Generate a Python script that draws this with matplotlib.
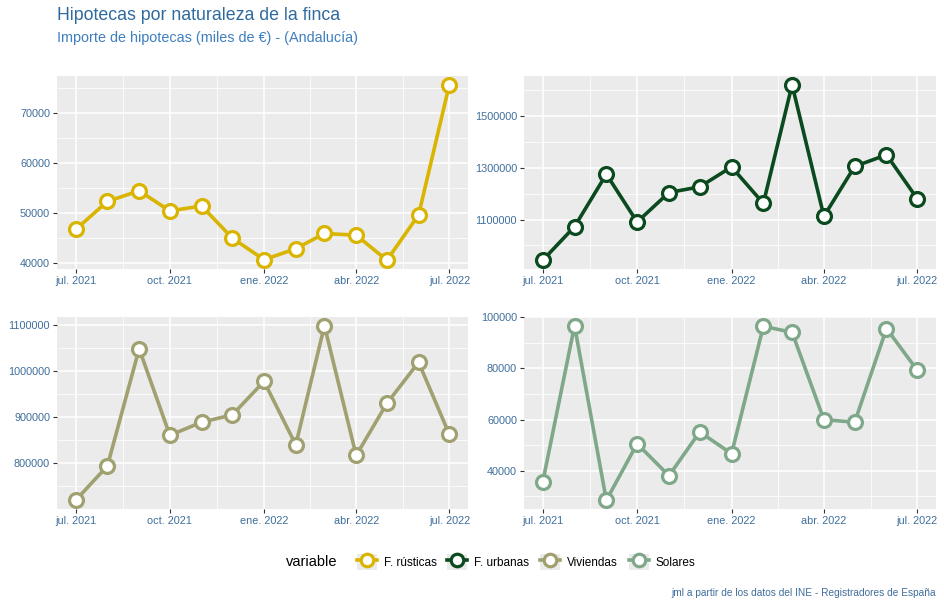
#!/usr/bin/env python3
"""Hipotecas por naturaleza de la finca - Andalucía (4 paneles)."""
import datetime as dt

import matplotlib
matplotlib.use("Agg")
import matplotlib.pyplot as plt
import matplotlib.dates as mdates
from matplotlib.lines import Line2D
from matplotlib.patches import Patch
from matplotlib.ticker import MultipleLocator, FuncFormatter

plt.rcParams["font.family"] = ["Liberation Sans", "DejaVu Sans"]

# --- datos ---
months = [dt.date(2021 + (6 + i) // 12, (6 + i) % 12 + 1, 1) for i in range(13)]

rusticas = [46750, 52370, 54490, 50460, 51460, 45020, 40710, 42900, 45950,
            45620, 40600, 49670, 75700]
urbanas = [943000, 1073000, 1276000, 1091000, 1205000, 1227000, 1304000,
           1163000, 1622000, 1113000, 1306000, 1351000, 1181000]
viviendas = [719000, 793600, 1047900, 860000, 888600, 904300, 977100,
             839300, 1097900, 816400, 929300, 1018600, 862100]
solares = [35600, 96700, 28500, 50600, 38100, 55200, 46700, 96500, 94100,
           60000, 59000, 95600, 79300]

series_names = ["F. rústicas", "F. urbanas", "Viviendas", "Solares"]
series_values = [rusticas, urbanas, viviendas, solares]
y_steps = [10000, 200000, 100000, 20000]
y_offsets = [0, 100000, 0, 0]

tick_dates = [dt.date(2021, 7, 1), dt.date(2021, 10, 1), dt.date(2022, 1, 1),
              dt.date(2022, 4, 1), dt.date(2022, 7, 1)]
tick_labels = ["jul. 2021", "oct. 2021", "ene. 2022", "abr. 2022", "jul. 2022"]

COLORS = ["#D9B400", "#0A4A1E", "#A0A070", "#7FA88A"]
PANEL_BG = "#EBEBEB"
TEXT_BLUE = "#3F6E9C"

W, H = 944, 607
fig = plt.figure(figsize=(W / 100, H / 100), dpi=100)

# panel rectangles in pixels (left, top, right, bottom)
boxes = [(57, 76, 468, 269), (524, 76, 936, 269),
         (57, 317, 468, 509), (524, 317, 936, 509)]

tick_num = mdates.date2num(tick_dates)
minor_num = [(a + b) / 2 for a, b in zip(tick_num[:-1], tick_num[1:])]

for box, name, vals, step, off, color in zip(boxes, series_names, series_values,
                                             y_steps, y_offsets, COLORS):
    l, t, r, b = box
    ax = fig.add_axes([l / W, 1 - b / H, (r - l) / W, (b - t) / H])
    ax.set_facecolor(PANEL_BG)
    for s in ax.spines.values():
        s.set_visible(False)
    ax.plot(months, vals, color=color, lw=2.6, marker="o", ms=10,
            mfc="white", mec=color, mew=2.3, zorder=3)
    ax.margins(x=0.05, y=0.05)
    ax.set_xticks(tick_num)
    ax.set_xticklabels(tick_labels)
    ax.set_xticks(minor_num, minor=True)
    ax.yaxis.set_major_locator(MultipleLocator(step, offset=off))
    ax.yaxis.set_minor_locator(MultipleLocator(step / 2))
    ax.yaxis.set_major_formatter(FuncFormatter(lambda v, p: f"{int(round(v))}"))
    ax.grid(which="major", color="white", lw=1.1, zorder=0)
    ax.grid(which="minor", color="white", lw=0.55, zorder=0)
    ax.set_axisbelow(True)
    ax.tick_params(which="major", length=3, width=0.8, color="#333333",
                   labelsize=7.8, labelcolor=TEXT_BLUE, pad=2)
    ax.tick_params(which="minor", length=0)

fig.text(57 / W, 1 - 15 / H, "Hipotecas por naturaleza de la finca",
         fontsize=12.8, color="#2F6A9E", va="center", ha="left")
fig.text(57 / W, 1 - 38 / H, "Importe de hipotecas (miles de €) - (Andalucía)",
         fontsize=10.4, color="#3F7FBF", va="center", ha="left")

handles = [(Patch(facecolor="#EBEBEB", edgecolor="none"),
            Line2D([], [], color=c, lw=2.6, marker="o", ms=9, mfc="white",
                   mec=c, mew=2.3))
           for c in COLORS]
fig.legend(handles, series_names, loc="center", ncol=4,
           bbox_to_anchor=(526 / W, 1 - 562 / H), frameon=False,
           fontsize=8.5, handlelength=1.7, handleheight=1.7,
           handletextpad=0.6, columnspacing=0.9)
fig.text(337 / W, 1 - 562 / H, "variable", fontsize=10.5, color="black",
         ha="right", va="center")

fig.text(936 / W, 1 - 593 / H,
         "jml a partir de los datos del INE - Registradores de España",
         fontsize=7.3, color="#3F6E9C", ha="right", va="center")

fig.savefig("out.png", dpi=100)
plt.close(fig)
